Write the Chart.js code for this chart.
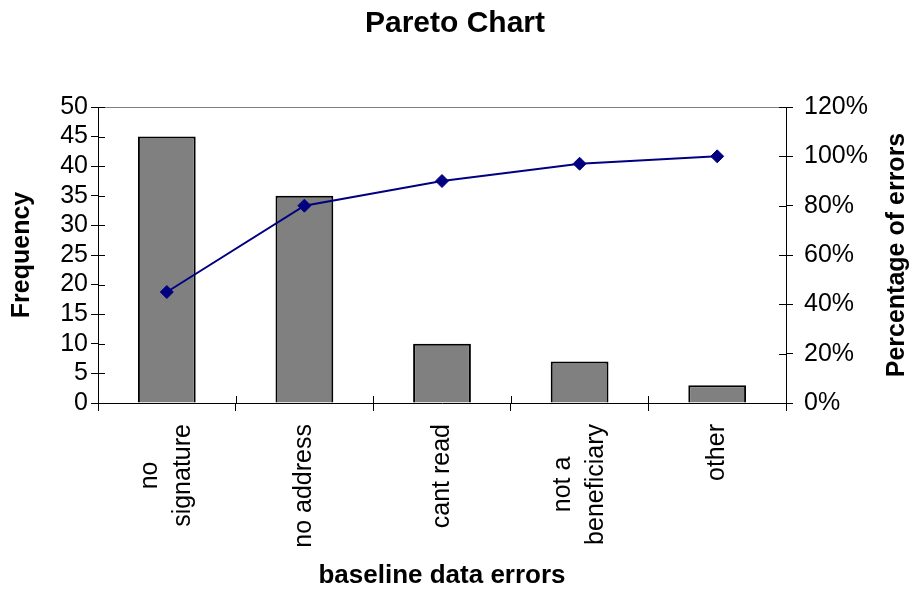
<!DOCTYPE html>
<html><head><meta charset="utf-8">
<script src="https://cdn.jsdelivr.net/npm/chart.js@4"></script>
<style>html,body{margin:0;padding:0;background:#fff;} #wrap{width:910px;height:589px;position:relative;}</style>
</head><body><div id="wrap"><canvas id="c"></canvas></div>
<script>
const categories = [["no", "signature"], "no address", "cant read", ["not a", "beneficiary"], "other"];
const frequency = [45, 35, 10, 7, 3];
const cumulativePercent = [45, 80, 90, 97, 100];
const chartTitle = "Pareto Chart";
const xTitle = "baseline data errors";
const yTitle = "Frequency";
const y1Title = "Percentage of errors";

const FONT = "'Liberation Sans', Arial, sans-serif";

const extras = {
  id: 'extras',
  beforeDraw(chart) {
    const sx = chart.scales.x;
    const items = sx.getLabelItems(chart.chartArea);
    if (!items._adj) {
      const ctx = chart.ctx;
      ctx.save();
      for (const it of items) {
        const lines = Array.isArray(it.label) ? it.label : [it.label];
        ctx.font = it.font.string;
        let w = 0;
        for (const l of lines) w = Math.max(w, ctx.measureText(l).width);
        const lh = it.font.lineHeight;
        it.options.textAlign = 'center';
        it.options.translation[1] += w / 2;
        it.options.translation[0] -= (lines.length - 1) * lh / 2;
      }
      ctx.restore();
      items._adj = true;
    }
  },
  afterDraw(chart) {
    const {ctx, chartArea} = chart;
    const sx = chart.scales.x, sy = chart.scales.y, sy1 = chart.scales.y1;
    ctx.save();
    // top border of plot area
    ctx.strokeStyle = '#808080';
    ctx.lineWidth = 1;
    ctx.beginPath();
    ctx.moveTo(chartArea.left, chartArea.top + 0.5);
    ctx.lineTo(chartArea.right, chartArea.top + 0.5);
    ctx.stroke();
    // inner tick marks (cross ticks)
    ctx.strokeStyle = '#000';
    ctx.beginPath();
    sy.ticks.forEach((t, i) => {
      const p = Math.round(sy.getPixelForTick(i)) + 0.5;
      ctx.moveTo(chartArea.left, p); ctx.lineTo(chartArea.left + 7, p);
    });
    sy1.ticks.forEach((t, i) => {
      const p = Math.round(sy1.getPixelForTick(i)) + 0.5;
      ctx.moveTo(chartArea.right - 7, p); ctx.lineTo(chartArea.right, p);
    });
    for (let i = 0; i <= categories.length; i++) {
      const p = Math.round(sx.getPixelForValue(i - 0.5)) + 0.5;
      ctx.moveTo(p, chartArea.bottom - 7); ctx.lineTo(p, chartArea.bottom);
    }
    ctx.stroke();
    // right axis title, reading bottom-to-top
    ctx.fillStyle = '#000';
    ctx.font = "bold 25px " + FONT;
    ctx.textAlign = 'center';
    ctx.textBaseline = 'middle';
    ctx.translate(sy1.right - 13, (chartArea.top + chartArea.bottom) / 2);
    ctx.rotate(-Math.PI / 2);
    ctx.fillText(y1Title, 0, 0);
    ctx.restore();
  }
};

new Chart(document.getElementById('c'), {
  data: {
    labels: categories,
    datasets: [
      {
        type: 'line',
        data: cumulativePercent,
        yAxisID: 'y1',
        borderColor: '#000080',
        backgroundColor: '#000080',
        borderWidth: 2,
        pointStyle: 'rectRot',
        pointRadius: 6.5,
        pointBackgroundColor: '#000080',
        pointBorderColor: '#000080',
        pointBorderWidth: 1,
        tension: 0,
        order: 1
      },
      {
        type: 'bar',
        data: frequency,
        yAxisID: 'y',
        backgroundColor: '#808080',
        borderColor: '#000000',
        borderWidth: 2,
        barPercentage: 0.42,
        categoryPercentage: 1,
        order: 2
      }
    ]
  },
  options: {
    responsive: true,
    maintainAspectRatio: false,
    animation: false,
    layout: { padding: 0 },
    plugins: {
      legend: { display: false },
      tooltip: { enabled: false },
      title: {
        display: true,
        text: chartTitle,
        color: '#000',
        font: { family: FONT, size: 30, weight: 'bold', lineHeight: 1.2 },
        padding: { top: 6, bottom: 65 }
      }
    },
    scales: {
      x: {
        type: 'category',
        offset: true,
        grid: { display: true, drawOnChartArea: false, drawTicks: true, tickLength: 8, color: '#000', offset: true },
        border: { color: '#000', width: 1 },
        ticks: { minRotation: 90, maxRotation: 90, autoSkip: false, color: '#000', padding: 13,
                 font: { family: FONT, size: 25, lineHeight: 1.32 } },
        title: { display: true, text: xTitle, color: '#000', padding: 0,
                 font: { family: FONT, size: 26, weight: 'bold', lineHeight: 1.0 } },
        afterFit: s => { s.height = 186; }
      },
      y: {
        position: 'left',
        min: 0, max: 50,
        grid: { drawOnChartArea: false, tickLength: 7, color: '#000' },
        border: { color: '#000', width: 1 },
        ticks: { stepSize: 5, autoSkip: false, color: '#000', padding: 3,
                 font: { family: FONT, size: 25, lineHeight: 0.9 } },
        title: { display: true, text: yTitle, color: '#000', padding: { top: 7, bottom: 0 },
                 font: { family: FONT, size: 25, weight: 'bold' } },
        afterFit: s => { s.width = 98; }
      },
      y1: {
        position: 'right',
        min: 0, max: 120,
        grid: { drawOnChartArea: false, tickLength: 7, color: '#000' },
        border: { color: '#000', width: 1 },
        ticks: { stepSize: 20, autoSkip: false, color: '#000', padding: 11,
                 font: { family: FONT, size: 25, lineHeight: 0.9 },
                 callback: v => v + '%' },
        afterFit: s => { s.width = 124; }
      }
    }
  },
  plugins: [extras]
});
</script>
</body></html>
